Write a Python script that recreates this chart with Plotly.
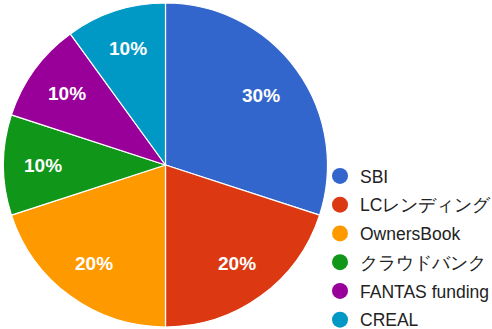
import math
import plotly.graph_objects as go

labels = ["SBI", "LCレンディング", "OwnersBook", "クラウドバンク", "FANTAS funding", "CREAL"]
values = [30, 20, 20, 10, 10, 10]
colors = ["#3366cc", "#dc3912", "#ff9900", "#109618", "#990099", "#0099c6"]

W, H = 492, 329
CX, CY, R = 165.5, 165, 162  # pie centre / radius in px
FONT = "Liberation Sans, Arial, sans-serif"

fig = go.Figure()
fig.add_trace(go.Pie(
    labels=labels, values=values, sort=False, direction="clockwise", rotation=0,
    marker=dict(colors=colors, line=dict(color="white", width=1.2)),
    textinfo="none", showlegend=False, hoverinfo="label+percent",
    domain=dict(x=[(CX - R) / W, (CX + R) / W], y=[(H - CY - R) / H, (H - CY + R) / H]),
))
for lab, col in zip(labels, colors):
    fig.add_trace(go.Scatter(x=[None], y=[None], mode="markers", name=lab, legendgroup=lab,
                             marker=dict(color=col, size=16, symbol="circle")))

# percentage labels placed along each slice's mid angle
total = sum(values)
cum = 0
for v in values:
    mid = (cum + v / 2) / total * 2 * math.pi
    cum += v
    rr = 0.73 if v / total > 0.25 else 0.755
    px = CX + rr * R * math.sin(mid)
    py = CY - rr * R * math.cos(mid)
    fig.add_annotation(x=px / W, y=1 - py / H, xref="paper", yref="paper",
                       xanchor="center", yanchor="middle",
                       text=f"<b>{v / total:.0%}</b>", showarrow=False,
                       font=dict(family=FONT, size=19, color="white"))

fig.update_layout(
    width=W, height=H, margin=dict(l=0, r=0, t=0, b=0, autoexpand=False),
    paper_bgcolor="white", plot_bgcolor="white",
    xaxis=dict(visible=False), yaxis=dict(visible=False),
    legend=dict(x=320 / W, y=1 - 158 / H, xanchor="left", yanchor="top",
                font=dict(family=FONT, size=17.5, color="#222222"),
                tracegroupgap=3, itemwidth=30, bgcolor="rgba(0,0,0,0)"),
    font=dict(family=FONT),
)
fig.write_html("out.html", post_script="document.body.style.margin='0';",
               config=dict(displayModeBar=False))
